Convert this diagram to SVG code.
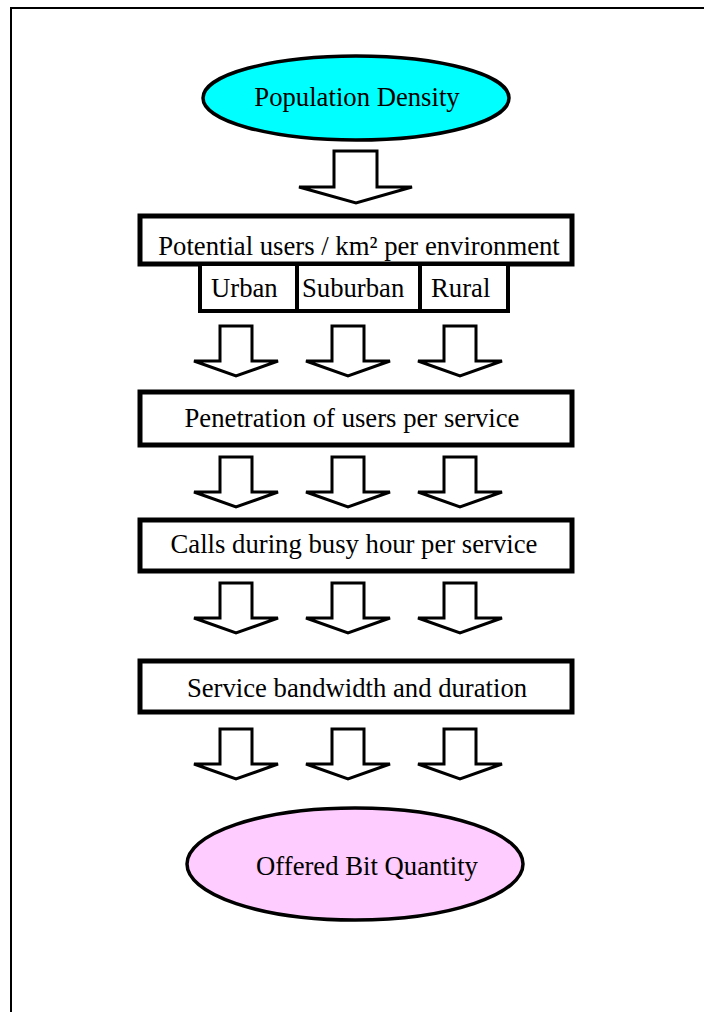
<svg xmlns="http://www.w3.org/2000/svg" width="704" height="1012" viewBox="0 0 704 1012">
<style>
.t{font-family:"Liberation Serif","Times New Roman",serif;font-size:26.7px;fill:#000}
.box{fill:#fff;stroke:#000;stroke-width:5}
.sub{fill:#fff;stroke:#000;stroke-width:4}
.arr{fill:#fff;stroke:#000;stroke-width:3;stroke-linejoin:miter}
</style>
<rect width="704" height="1012" fill="#fff"/>
<rect x="11" y="8" width="720" height="1030" fill="none" stroke="#000" stroke-width="2"/>
<g id="population-density">
<ellipse cx="356" cy="98" rx="153" ry="42" fill="#00FFFF" stroke="#000" stroke-width="3.5"/>
<text class="t" x="357" y="106" text-anchor="middle">Population Density</text>
</g>
<g id="potential-users">
<rect class="box" x="140" y="216" width="432" height="48"/>
<text class="t" x="359" y="255" text-anchor="middle">Potential users / km² per environment</text>
</g>
<g id="urban">
<rect class="sub" x="200" y="264" width="97" height="47"/>
<text class="t" x="211" y="297">Urban</text>
</g>
<g id="suburban">
<rect class="sub" x="297" y="264" width="123" height="47"/>
<text class="t" x="302" y="297">Suburban</text>
</g>
<g id="rural">
<rect class="sub" x="420" y="264" width="88" height="47"/>
<text class="t" x="431" y="297">Rural</text>
</g>
<g id="penetration">
<rect class="box" x="140" y="392" width="432" height="53"/>
<text class="t" x="352" y="427" text-anchor="middle">Penetration of users per service</text>
</g>
<g id="calls">
<rect class="box" x="140" y="520" width="432" height="51"/>
<text class="t" x="354" y="553" text-anchor="middle">Calls during busy hour per service</text>
</g>
<g id="bandwidth">
<rect class="box" x="140" y="661" width="432" height="51"/>
<text class="t" x="357" y="697" text-anchor="middle">Service bandwidth and duration</text>
</g>
<g id="offered-bit-quantity">
<ellipse cx="355" cy="864" rx="168" ry="56" fill="#FFCCFF" stroke="#000" stroke-width="3.5"/>
<text class="t" x="367" y="875" text-anchor="middle">Offered Bit Quantity</text>
</g>
<g id="connectors">
<polygon class="arr" points="334,151 377,151 377,187 412,187 356,203 299,187 334,187"/>
<defs>
<polygon id="a" class="arr" points="-16,0 16,0 16,35 42,35 0,50 -42,35 -16,35"/>
</defs>
<use href="#a" x="236" y="326"/><use href="#a" x="348" y="326"/><use href="#a" x="460" y="326"/>
<use href="#a" x="236" y="457"/><use href="#a" x="348" y="457"/><use href="#a" x="460" y="457"/>
<use href="#a" x="236" y="583"/><use href="#a" x="348" y="583"/><use href="#a" x="460" y="583"/>
<use href="#a" x="236" y="729"/><use href="#a" x="348" y="729"/><use href="#a" x="460" y="729"/>
</g>
</svg>
